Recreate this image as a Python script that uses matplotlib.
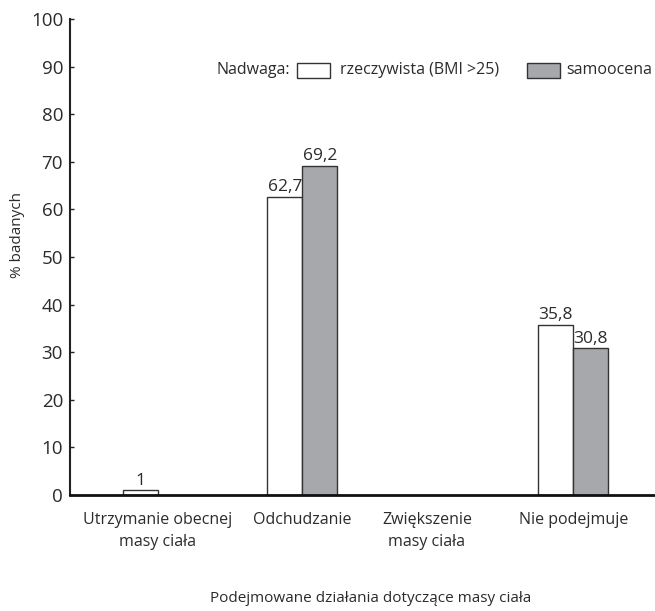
import matplotlib
matplotlib.use("Agg")
import matplotlib.pyplot as plt
from matplotlib.patches import Rectangle

plt.rcParams['font.family'] = ['Open Sans', 'DejaVu Sans']

categories = ["Utrzymanie obecnej\nmasy ciała", "Odchudzanie", "Zwiększenie\nmasy ciała", "Nie podejmuje"]
rzeczywista = [1, 62.7, None, 35.8]
samoocena = [None, 69.2, None, 30.8]
rz_labels = ["1", "62,7", "", "35,8"]
sa_labels = ["", "69,2", "", "30,8"]
series_names = ["rzeczywista (BMI >25)", "samoocena"]
yticks = list(range(0, 101, 10))

group_pos = [0.0, 1.0, 1.862, 2.874]
bw = 0.242
txt = "#2b2b2b"
gray = "#a7a8ab"
colors = ["white", gray]

W, H = 655, 611
fig = plt.figure(figsize=(W / 100, H / 100), dpi=100)
ax = fig.add_axes([70 / W, (H - 495) / H, (W - 70) / W, (495 - 19) / H])

for p, v, lab in zip(group_pos, rzeczywista, rz_labels):
    if v is not None:
        ax.bar(p - bw / 2, v, width=bw, color=colors[0], edgecolor="#333333", linewidth=1.0, zorder=2)
        ax.text(p - bw / 2, v + 0.3, lab, ha="center", va="bottom", fontsize=12.5, color=txt)
for p, v, lab in zip(group_pos, samoocena, sa_labels):
    if v is not None:
        ax.bar(p + bw / 2, v, width=bw, color=colors[1], edgecolor="#333333", linewidth=1.0, zorder=2)
        ax.text(p + bw / 2, v + 0.3, lab, ha="center", va="bottom", fontsize=12.5, color=txt)

ax.set_xlim(-0.6065, 3.439)
ax.set_ylim(0, 100)
ax.set_yticks(yticks)
ax.set_yticklabels([str(t) for t in yticks], fontsize=13.5, color=txt)
ax.set_xticks(group_pos)
ax.set_xticklabels(categories, fontsize=11.5, color=txt, linespacing=1.5)
ax.tick_params(axis="x", length=0, pad=12)
ax.tick_params(axis="y", length=3, width=1, direction="in", pad=5, color="#222222")
for s in ["top", "right"]:
    ax.spines[s].set_visible(False)
ax.spines["left"].set_linewidth(1.5)
ax.spines["left"].set_color("#222222")
ax.spines["bottom"].set_linewidth(2.0)
ax.spines["bottom"].set_color("#111111")
ax.spines["bottom"].set_zorder(3)

fig.text(18 / W, 1 - 235 / H, "% badanych", rotation=90, ha="center", va="center", fontsize=11, color=txt)
fig.text(371 / W, 1 - 598 / H, "Podejmowane działania dotyczące masy ciała", ha="center", va="center", fontsize=11, color=txt)

# legend (manual placement)
ly = 1 - 70 / H
fig.text(290 / W, ly, "Nadwaga:", ha="right", va="center", fontsize=11.5, color=txt)
box_x = [297, 527]
for bx, c in zip(box_x, colors):
    fig.add_artist(Rectangle((bx / W, 1 - 78 / H), 33 / W, 15 / H, transform=fig.transFigure,
                             facecolor=c, edgecolor="#333333", linewidth=1.0))
fig.text(340 / W, ly, series_names[0], ha="left", va="center", fontsize=11.5, color=txt)
fig.text(652 / W, ly, series_names[1], ha="right", va="center", fontsize=11.5, color=txt)

fig.savefig("out.png", dpi=100)
